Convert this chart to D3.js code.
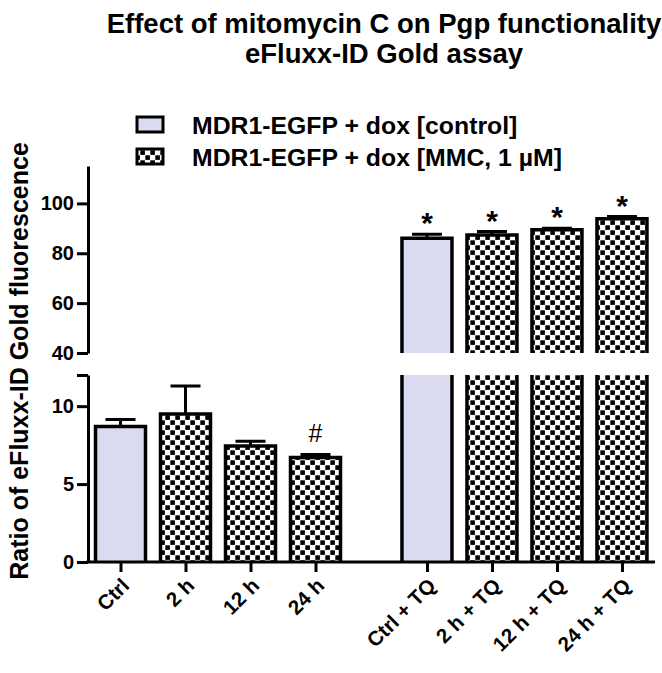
<!DOCTYPE html>
<html>
<head>
<meta charset="utf-8">
<script src="https://cdn.jsdelivr.net/npm/d3@7"></script>
<style>
  html, body { margin: 0; padding: 0; background: #fff; }
  svg text { font-family: "Liberation Sans", Arial, sans-serif; font-weight: bold; fill: #000; }
</style>
</head>
<body>
<svg id="chart" width="662" height="673"></svg>
<script>
// ---- data ----
const categories = ["Ctrl", "2 h", "12 h", "24 h", "Ctrl + TQ", "2 h + TQ", "12 h + TQ", "24 h + TQ"];
const groups     = [0, 0, 0, 0, 1, 1, 1, 1];
const seriesOf   = ["control", "MMC", "MMC", "MMC", "control", "MMC", "MMC", "MMC"];
const means      = [8.7, 9.5, 7.45, 6.7, 86.0, 87.3, 89.4, 93.8];
const errors     = [0.45, 1.8, 0.3, 0.2, 1.6, 1.4, 0.6, 0.9];
const marks      = ["", "", "", "#", "*", "*", "*", "*"];
const legendLabels = ["MDR1-EGFP + dox [control]", "MDR1-EGFP + dox [MMC, 1 \u00b5M]"];
const legendSeries = ["control", "MMC"];
const upperTicks = [40, 60, 80, 100];
const lowerTicks = [0, 5, 10, 12];
const titleLines = ["Effect of mitomycin C on Pgp functionality", "eFluxx-ID Gold assay"];
const yLabel = "Ratio of eFluxx-ID Gold fluorescence";

// ---- layout ----
const axisX = 88, axisRight = 655;
const groupGap = 0.715;
const pos = categories.map((c, i) => i + groups[i] * groupGap);
const x = d3.scaleLinear().domain([-0.5, 8.2]).range([axisX, axisRight - 1.5]);
const yUp = d3.scaleLinear().domain([40, 115]).range([353, 166]);
const yLo = d3.scaleLinear().domain([0, 12]).range([562, 375]);
const barW = 50, capW = 30;
const fillColor = { control: "#dadaf0", MMC: "url(#checker)" };

const svg = d3.select("#chart");
const defs = svg.append("defs");
const pat = defs.append("pattern").attr("id", "checker")
  .attr("width", 10).attr("height", 10).attr("patternUnits", "userSpaceOnUse");
pat.append("rect").attr("width", 10).attr("height", 10).attr("fill", "#fff");
pat.append("rect").attr("x", 0.3).attr("y", 0.3).attr("width", 4.6).attr("height", 4.6).attr("fill", "#000");
pat.append("rect").attr("x", 5.3).attr("y", 5.3).attr("width", 4.6).attr("height", 4.6).attr("fill", "#000");

// ---- title ----
svg.selectAll("text.title").data(titleLines).join("text")
  .attr("class", "title")
  .attr("x", 384).attr("y", (d, i) => 33 + i * 30)
  .attr("text-anchor", "middle").style("font-size", "27.5px")
  .text(d => d);

// ---- y label ----
svg.append("text")
  .attr("transform", `translate(28,${yLo(0) - 201}) rotate(-90)`)
  .attr("text-anchor", "middle").style("font-size", "25px")
  .text(yLabel);

// ---- bars ----
const barsG = svg.append("g");
categories.forEach((c, i) => {
  const cx = x(pos[i]);
  const x0 = cx - barW / 2, x1 = cx + barW / 2;
  const v = means[i];
  const fill = fillColor[seriesOf[i]];
  // lower panel
  const loTop = Math.min(v, yLo.domain()[1]);
  barsG.append("rect").attr("x", x0).attr("y", yLo(loTop))
    .attr("width", barW).attr("height", yLo(0) - yLo(loTop)).attr("fill", fill);
  const loPath = v > yLo.domain()[1]
    ? `M${x0},${yLo(loTop)}V${yLo(0)}M${x1},${yLo(loTop)}V${yLo(0)}`
    : `M${x0},${yLo(0)}V${yLo(loTop)}H${x1}V${yLo(0)}`;
  barsG.append("path").attr("d", loPath).attr("fill", "none")
    .attr("stroke", "#000").attr("stroke-width", 3.5).attr("stroke-linejoin", "miter");
  // upper panel
  if (v > yUp.domain()[0]) {
    barsG.append("rect").attr("x", x0).attr("y", yUp(v))
      .attr("width", barW).attr("height", yUp(40) - yUp(v)).attr("fill", fill);
    barsG.append("path").attr("d", `M${x0},${yUp(40)}V${yUp(v)}H${x1}V${yUp(40)}`)
      .attr("fill", "none").attr("stroke", "#000").attr("stroke-width", 3.5);
  }
  // error bars
  const ys = v > 40 ? yUp : yLo;
  const eTop = ys(v + errors[i]);
  barsG.append("path")
    .attr("d", `M${cx},${ys(v)}V${eTop}M${cx - capW / 2},${eTop}H${cx + capW / 2}`)
    .attr("stroke", "#000").attr("stroke-width", 3).attr("fill", "none");
  // significance marks
  if (marks[i]) {
    const isStar = marks[i] === "*";
    barsG.append("text").attr("x", cx).attr("y", eTop - (isStar ? 1 : 12))
      .attr("text-anchor", "middle").style("font-size", isStar ? "30px" : "25px")
      .style("font-weight", isStar ? "bold" : "normal")
      .text(marks[i]);
  }
});

// ---- axes ----
function styleAxis(g) {
  g.selectAll("path.domain").attr("stroke", "#000").attr("stroke-width", 3);
  g.selectAll(".tick line").attr("stroke", "#000").attr("stroke-width", 3);
  g.selectAll(".tick text").style("font-size", "20px")
    .style("font-family", "'Liberation Sans', Arial, sans-serif").style("font-weight", "bold");
}
const upAxis = svg.append("g").attr("transform", `translate(${axisX},0)`)
  .call(d3.axisLeft(yUp).tickValues(upperTicks).tickSize(11).tickSizeOuter(0).tickPadding(3));
styleAxis(upAxis);
const loAxis = svg.append("g").attr("transform", `translate(${axisX},0)`)
  .call(d3.axisLeft(yLo).tickValues(lowerTicks).tickSize(11).tickSizeOuter(0).tickPadding(3)
    .tickFormat(d => d === 12 ? "" : d));
styleAxis(loAxis);

const xAxis = svg.append("g").attr("transform", `translate(0,${yLo(0)})`)
  .call(d3.axisBottom(x).tickValues(pos).tickSize(10).tickSizeOuter(0).tickFormat(""));
xAxis.select("path.domain").attr("d", `M${axisX - 1.5},0H${axisRight}`);
styleAxis(xAxis);

svg.append("g").selectAll("text.xl").data(categories).join("text")
  .attr("class", "xl")
  .attr("text-anchor", "end")
  .attr("transform", (d, i) => `translate(${x(pos[i]) + 10},${yLo(0) + 25}) rotate(-45)`)
  .style("font-size", "20.5px")
  .text(d => d);

// ---- legend ----
const leg = svg.append("g");
legendLabels.forEach((lab, i) => {
  const yy = 117 + i * 32;
  leg.append("rect").attr("x", 137).attr("y", yy).attr("width", 26).attr("height", 15)
    .attr("fill", fillColor[legendSeries[i]]).attr("stroke", "#000").attr("stroke-width", 3);
  leg.append("text").attr("x", 192).attr("y", yy + 17).style("font-size", "24.8px").text(lab);
});
</script>
</body>
</html>
